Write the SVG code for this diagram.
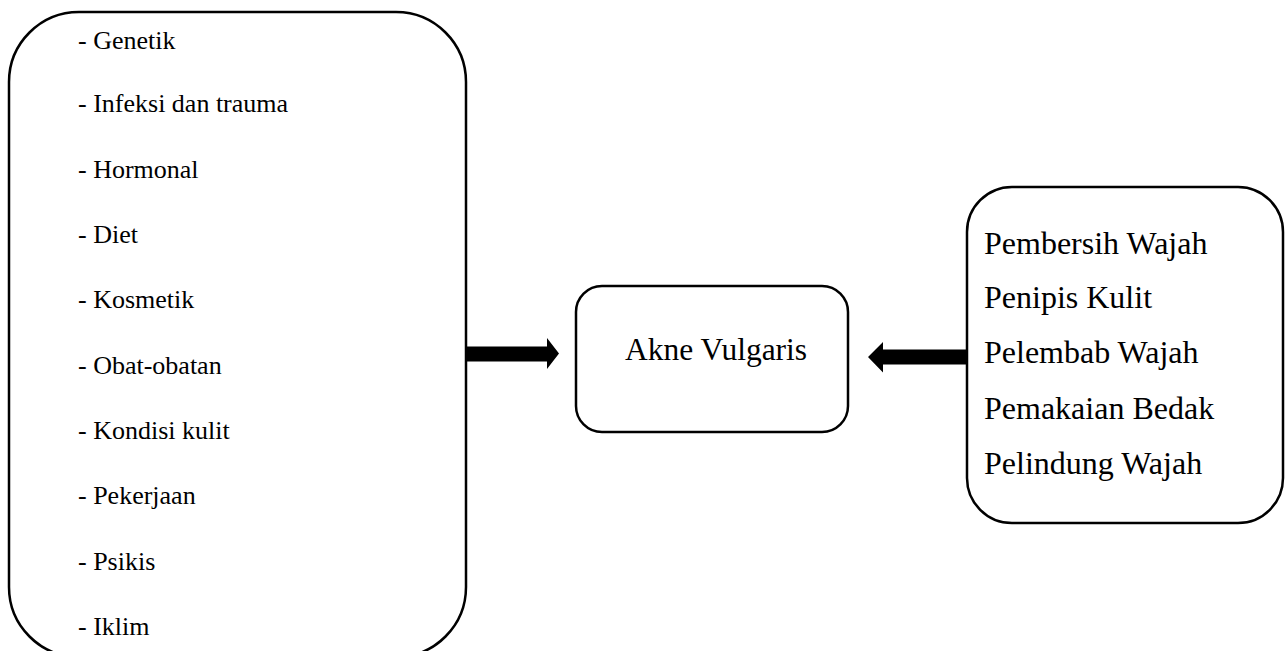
<svg xmlns="http://www.w3.org/2000/svg" width="1286" height="651" viewBox="0 0 1286 651">
<style>
.box{fill:#fff;stroke:#000;stroke-width:2.5}
.t{font-family:"Liberation Serif","Times New Roman",serif;fill:#000}
.l{font-size:26px}
.r{font-size:32px}
.c{font-size:31.5px}
.arr{fill:#000;stroke:none}
</style>
<rect width="1286" height="651" fill="#fff"/>
<g id="factors">
<rect class="box" x="9" y="12" width="457" height="645" rx="70" ry="70"/>
<text class="t l" x="78" y="49">- Genetik</text>
<text class="t l" x="78" y="112">- Infeksi dan trauma</text>
<text class="t l" x="78" y="178">- Hormonal</text>
<text class="t l" x="78" y="243">- Diet</text>
<text class="t l" x="78" y="308">- Kosmetik</text>
<text class="t l" x="78" y="374">- Obat-obatan</text>
<text class="t l" x="78" y="439">- Kondisi kulit</text>
<text class="t l" x="78" y="504">- Pekerjaan</text>
<text class="t l" x="78" y="570">- Psikis</text>
<text class="t l" x="78" y="635">- Iklim</text>
</g>
<g id="akne">
<rect class="box" x="576" y="286" width="272" height="146" rx="26" ry="26"/>
<text class="t c" x="625" y="360">Akne Vulgaris</text>
</g>
<g id="care">
<rect class="box" x="967" y="187" width="316" height="336" rx="45" ry="45"/>
<text class="t r" x="984" y="254">Pembersih Wajah</text>
<text class="t r" x="984" y="308">Penipis Kulit</text>
<text class="t r" x="984" y="363">Pelembab Wajah</text>
<text class="t r" x="984" y="419">Pemakaian Bedak</text>
<text class="t r" x="984" y="474">Pelindung Wajah</text>
</g>
<g id="connectors">
<polygon class="arr" points="467,346.5 547,346.5 547,338 559,353.5 547,369 547,361.5 467,361.5"/>
<polygon class="arr" points="967,349.5 883,349.5 883,342 868,357 883,372.5 883,364.5 967,364.5"/>
</g>
</svg>
